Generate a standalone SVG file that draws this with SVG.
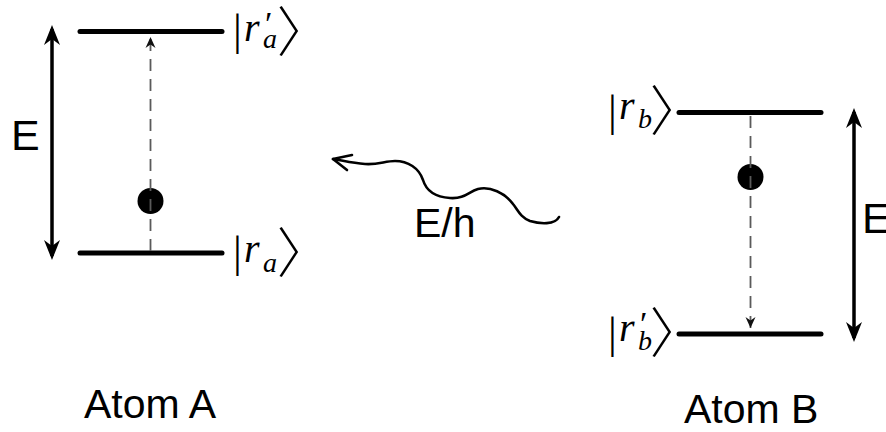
<svg xmlns="http://www.w3.org/2000/svg" width="886" height="432" viewBox="0 0 886 432">
<style>
.lvl{stroke:#000;stroke-width:5;stroke-linecap:round;fill:none}
.dash{stroke:#5a5a5a;stroke-width:1.8;stroke-dasharray:12 8;fill:none}
.en{stroke:#000;stroke-width:3.5;fill:none}
.sans{font-family:"Liberation Sans",Arial,sans-serif;fill:#000}
.ser{font-family:"Liberation Serif","DejaVu Serif",serif;fill:#000;font-size:40px}
.bar{font-size:44px}
.it{font-style:italic}
.pr{font-size:34px}
.sub{font-size:28px;font-style:italic}
.ang{font-family:"Noto Sans CJK JP","DejaVu Sans",sans-serif;font-size:54px;font-weight:300;font-feature-settings:"palt"}
.wave{stroke:#000;stroke-width:2.6;fill:none;stroke-linecap:round;stroke-linejoin:round}
</style>
<defs>
<marker id="big" markerWidth="28" markerHeight="20" viewBox="-22 -10 28 20" refX="-4" refY="0" orient="auto-start-reverse" markerUnits="userSpaceOnUse">
<path d="M0,0 L-20,-8 L-14,0 L-20,8 Z" fill="#000"/>
</marker>
<marker id="small" markerWidth="16" markerHeight="12" viewBox="-13 -6 16 12" refX="0" refY="0" orient="auto" markerUnits="userSpaceOnUse">
<path d="M0,0 L-11,-5 L-7.5,0 L-11,5 Z" fill="#111"/>
</marker>
</defs>

<g id="atomA">
<line class="lvl" x1="80" y1="31.5" x2="222" y2="31.5"/>
<line class="lvl" x1="80" y1="253" x2="222" y2="253"/>
<circle cx="150.5" cy="201" r="13" fill="#000"/>
<text class="sans" x="11" y="150" font-size="43">E</text>
<text class="ser"><tspan class="bar" x="233" y="45">|</tspan><tspan class="it" x="244" y="41">r</tspan><tspan class="pr" x="265" y="35">′</tspan><tspan class="sub" x="263" y="48">a</tspan><tspan class="ang" x="278" y="52">〉</tspan></text>
<text class="ser"><tspan class="bar" x="233" y="267">|</tspan><tspan class="it" x="244" y="262">r</tspan><tspan class="sub" x="263" y="272">a</tspan><tspan class="ang" x="278" y="273">〉</tspan></text>
<text class="sans" x="84" y="418" font-size="41">Atom A</text>
</g>

<g id="atomB">
<line class="lvl" x1="679" y1="112.5" x2="821" y2="112.5"/>
<line class="lvl" x1="679" y1="334" x2="821" y2="334"/>
<circle cx="750.5" cy="177" r="13" fill="#000"/>
<text class="sans" x="862" y="233" font-size="43">E</text>
<text class="ser"><tspan class="bar" x="608" y="126">|</tspan><tspan class="it" x="619" y="119">r</tspan><tspan class="sub" x="638" y="128">b</tspan><tspan class="ang" x="651" y="131">〉</tspan></text>
<text class="ser"><tspan class="bar" x="608" y="348">|</tspan><tspan class="it" x="619" y="341">r</tspan><tspan class="pr" x="640" y="335">′</tspan><tspan class="sub" x="638" y="350">b</tspan><tspan class="ang" x="651" y="353">〉</tspan></text>
<text class="sans" x="684" y="423" font-size="41">Atom B</text>
</g>

<g id="photon">
<text class="sans" x="414" y="237" font-size="41">E/h</text>
</g>

<g id="connectors">
<line class="en" x1="52" y1="29" x2="52" y2="256" marker-start="url(#big)" marker-end="url(#big)"/>
<line class="en" x1="854" y1="112" x2="854" y2="338" marker-start="url(#big)" marker-end="url(#big)"/>
<line class="dash" x1="150.5" y1="251" x2="150.5" y2="37" marker-end="url(#small)"/>
<line class="dash" x1="750.5" y1="116" x2="750.5" y2="328" marker-end="url(#small)"/>
<path class="wave" d="M559,217 C555,225 540,224 530,221 C520,217 518,210 513,204 C505,193 490,186 478,189 C468,192 465,199 450,198 C435,197 426,190 423,180 C419,168 408,161 395,161 C385,161 378,165 365,164 C352,163 345,161 333,159"/>
<path class="wave" d="M352,155 L333,159 L347,170"/>
</g>
</svg>
